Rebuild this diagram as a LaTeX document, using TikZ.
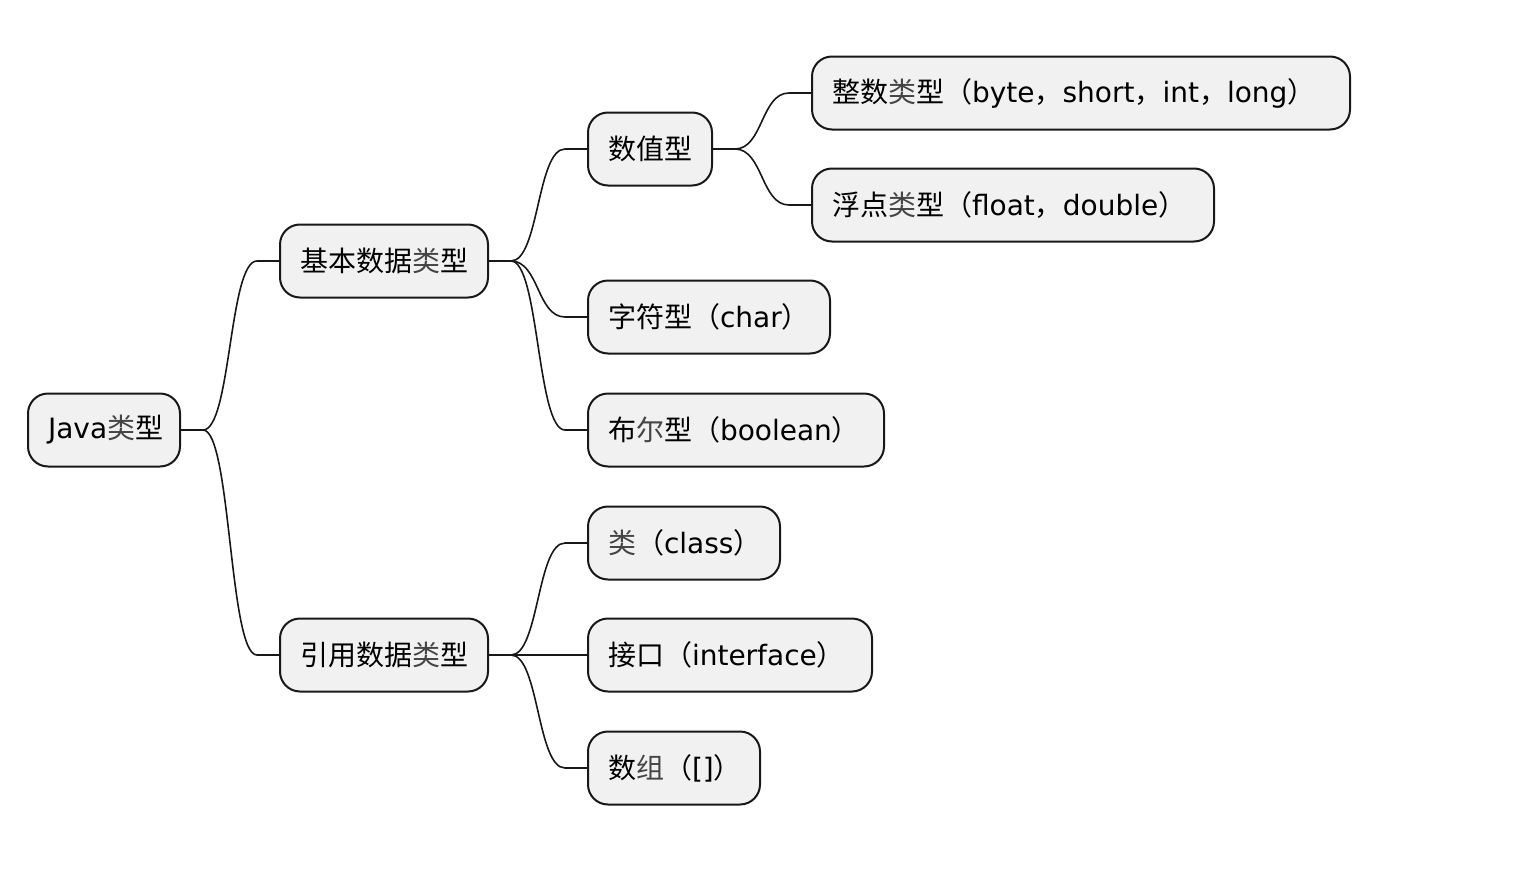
\documentclass[tikz,border=0pt]{standalone}
\usepackage{fontspec}
\setmainfont{DejaVu Sans}
\newfontfamily\cjk{Noto Sans CJK SC}
\usetikzlibrary{calc}
\definecolor{nodefill}{HTML}{F1F1F1}
\definecolor{edge}{HTML}{181818}
\definecolor{lightglyph}{HTML}{444444}
\newcommand{\lgl}[1]{\textcolor{lightglyph}{#1}}
\tikzset{
  mm/.style={draw=edge, line width=2pt, fill=nodefill, rounded corners=20pt,
    minimum height=73pt, inner ysep=0pt, inner xsep=20pt, align=left,
    text width=#1pt-40pt,
    font=\fontsize{28}{32}\selectfont},
  link/.style={draw=edge, line width=1.6pt}
}
\newcommand{\mmlink}[2]{%
  \draw[link] (#1.east) -- ++(22,0) .. controls +(28,0) and +(-28,0) .. ($(#2.west)+(-22,0)$) -- (#2.west);}
\begin{document}
\begin{tikzpicture}[x=1pt,y=-1pt]
\useasboundingbox (0,0) rectangle (1532,870);
\node[mm=152] (java) at (104,430) {Java{\cjk\lgl{类}型}};
\node[mm=208] (jiben) at (384,261) {{\cjk 基本数据\lgl{类}型}};
\node[mm=208] (yinyong) at (384,655) {{\cjk 引用数据\lgl{类}型}};
\node[mm=124] (shuzhi) at (650,149) {{\cjk 数值型}};
\node[mm=538] (zhengshu) at (1081,93) {{\cjk 整数\lgl{类}型（}byte{\cjk ，}short{\cjk ，}int{\cjk ，}long{\cjk ）}};
\node[mm=402] (fudian) at (1013,205) {{\cjk 浮点\lgl{类}型（}float{\cjk ，}double{\cjk ）}};
\node[mm=242] (zifu) at (709,317) {{\cjk 字符型（}char{\cjk ）}};
\node[mm=296] (buer) at (736,430) {{\cjk 布\lgl{尔}型（}boolean{\cjk ）}};
\node[mm=192] (lei) at (684,543) {{\cjk \lgl{类}（}class{\cjk ）}};
\node[mm=284] (jiekou) at (730,655) {{\cjk 接口（}interface{\cjk ）}};
\node[mm=172] (shuzu) at (674,768) {{\cjk 数\lgl{组}（}[]{\cjk ）}};
\mmlink{java}{jiben}
\mmlink{java}{yinyong}
\mmlink{jiben}{shuzhi}
\mmlink{jiben}{zifu}
\mmlink{jiben}{buer}
\mmlink{shuzhi}{zhengshu}
\mmlink{shuzhi}{fudian}
\mmlink{yinyong}{lei}
\mmlink{yinyong}{jiekou}
\mmlink{yinyong}{shuzu}
\end{tikzpicture}
\end{document}
